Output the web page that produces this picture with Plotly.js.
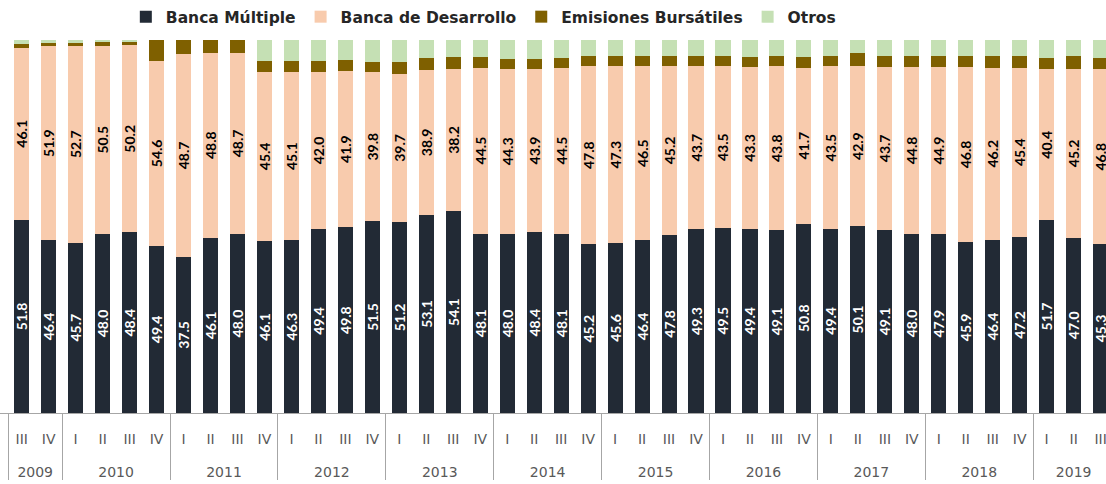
<!DOCTYPE html>
<html>
<head>
<meta charset="utf-8">
<script src="https://cdn.plot.ly/plotly-3.0.1.min.js"></script>
<style>
  html, body { margin: 0; padding: 0; background: #ffffff; }
  #chart { width: 1106px; height: 484px; }
</style>
</head>
<body>
<div id="chart"></div>
<script>
// categories (year / quarter)
const years = [
  "2009", "2009",
  "2010", "2010", "2010", "2010",
  "2011", "2011", "2011", "2011",
  "2012", "2012", "2012", "2012",
  "2013", "2013", "2013", "2013",
  "2014", "2014", "2014", "2014",
  "2015", "2015", "2015", "2015",
  "2016", "2016", "2016", "2016",
  "2017", "2017", "2017", "2017",
  "2018", "2018", "2018", "2018",
  "2019", "2019", "2019",
];
const quarters = [
  "III", "IV",
  "I", "II", "III", "IV",
  "I", "II", "III", "IV",
  "I", "II", "III", "IV",
  "I", "II", "III", "IV",
  "I", "II", "III", "IV",
  "I", "II", "III", "IV",
  "I", "II", "III", "IV",
  "I", "II", "III", "IV",
  "I", "II", "III", "IV",
  "I", "II", "III",
];

// series values (%)
const bancaMultiple = [
  51.8, 46.4, 45.7, 48.0, 48.4, 49.4, 37.5, 46.1, 48.0, 46.1, 46.3, 49.4, 49.8,
  51.5, 51.2, 53.1, 54.1, 48.1, 48.0, 48.4, 48.1, 45.2, 45.6, 46.4, 47.8, 49.3,
  49.5, 49.4, 49.1, 50.8, 49.4, 50.1, 49.1, 48.0, 47.9, 45.9, 46.4, 47.2, 51.7,
  47.0, 45.3,
];
const bancaDesarrollo = [
  46.1, 51.9, 52.7, 50.5, 50.2, 54.6, 48.7, 48.8, 48.7, 45.4, 45.1, 42.0, 41.9,
  39.8, 39.7, 38.9, 38.2, 44.5, 44.3, 43.9, 44.5, 47.8, 47.3, 46.5, 45.2, 43.7,
  43.5, 43.3, 43.8, 41.7, 43.5, 42.9, 43.7, 44.8, 44.9, 46.8, 46.2, 45.4, 40.4,
  45.2, 46.8,
];
const emisiones = [
  1.0, 0.9, 0.9, 0.9, 0.9, 6.2, 3.4, 3.3, 3.4, 2.9, 3.0, 2.9, 2.9,
  2.9, 3.2, 3.3, 3.1, 2.9, 2.7, 2.7, 2.7, 2.7, 2.7, 2.7, 2.7, 2.7,
  2.7, 2.8, 2.7, 2.9, 2.7, 3.4, 2.9, 2.9, 2.9, 3.0, 3.0, 3.0, 3.1,
  3.4, 3.1,
];
const otros = [
  1.1, 0.8, 0.7, 0.6, 0.5, 0, 0, 0, 0, 5.6, 5.6, 5.7, 5.4,
  5.8, 5.9, 4.7, 4.6, 4.5, 5.0, 5.0, 4.7, 4.3, 4.4, 4.4, 4.3, 4.3,
  4.3, 4.5, 4.4, 4.6, 4.4, 3.6, 4.3, 4.3, 4.3, 4.3, 4.4, 4.4, 4.8,
  4.4, 4.8,
];

// multicategory orders inner labels by first appearance, so the 2009 quarters
// (III, IV) get their own keys; the tall blank 2nd line pushes the years lower.
function quarterKeys() {
  return quarters.map((q, i) => {
    const pad = years[i] === years[0] ? "\u00a0\u00a0" : "\u00a0";
    return q + '<br><span style="font-size:38px">' + pad + "</span>";
  });
}

const xCats = [years, quarterKeys()];

function barTrace(name, values, color, labelColor) {
  const trace = {
    type: "bar",
    name: name,
    x: xCats,
    y: values,
    marker: { color: color },
    hoverinfo: "skip",
  };
  if (labelColor) {
    trace.text = values.map((v) => v.toFixed(1));
    trace.textposition = "inside";
    trace.insidetextanchor = "middle";
    trace.textangle = -90;
    trace.constraintext = "none";
    trace.textfont = { family: "Lato", size: 14, color: labelColor, weight: "bold" };
  }
  return trace;
}

const traces = [
  barTrace("Banca Múltiple", bancaMultiple, "#222a35", "#ffffff"),
  barTrace("Banca de Desarrollo", bancaDesarrollo, "#f8cbad", "#000000"),
  barTrace("Emisiones Bursátiles", emisiones, "#7f6000"),
  barTrace("Otros", otros, "#c5e0b4"),
];

const layout = {
  width: 1106,
  height: 484,
  margin: { l: 0, r: 0, t: 40, b: 71, autoexpand: false },
  paper_bgcolor: "#ffffff",
  plot_bgcolor: "#ffffff",
  barmode: "stack",
  barnorm: "percent",
  bargap: 0.44,
  font: { family: "DejaVu Sans", color: "#595959" },
  showlegend: true,
  legend: {
    orientation: "h",
    x: 0.437,
    xanchor: "center",
    y: 1.107,
    yanchor: "top",
    traceorder: "normal",
    font: { family: "DejaVu Sans", size: 15.5, color: "#262626", weight: "bold" },
  },
  xaxis: {
    type: "multicategory",
    range: [-0.805, 40.2],
    showline: true,
    linecolor: "#a6a6a6",
    linewidth: 1,
    showgrid: false,
    zeroline: false,
    ticks: "",
    tickangle: 0,
    ticklabelstandoff: 13,
    showdividers: true,
    dividercolor: "#a6a6a6",
    dividerwidth: 1,
    tickfont: { family: "DejaVu Sans", size: 14, color: "#595959" },
  },
  yaxis: {
    range: [0, 100],
    showticklabels: false,
    showgrid: false,
    zeroline: false,
    showline: false,
  },
};

Plotly.newPlot("chart", traces, layout, { staticPlot: true });
</script>
</body>
</html>
